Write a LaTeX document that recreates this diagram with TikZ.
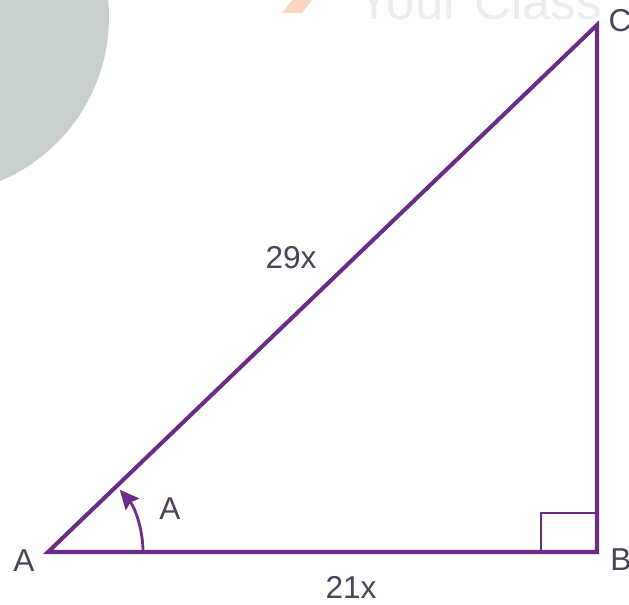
\documentclass[tikz,border=0pt]{standalone}
\usepackage{fontspec}
\setmainfont{Liberation Sans}
\usetikzlibrary{arrows.meta}

\definecolor{triline}{RGB}{106,44,134}
\definecolor{labelgrey}{RGB}{78,66,88}
\definecolor{markgrey}{RGB}{200,208,205}
\definecolor{markorange}{RGB}{253,212,192}

\begin{document}
\begin{tikzpicture}[
    side/.style={draw=triline, line width=2.3pt, line join=miter},
    thinside/.style={draw=triline, line width=1.6pt},
    lbl/.style={text=labelgrey, font=\fontsize{18}{20}\selectfont, inner sep=0pt}]
    \useasboundingbox (0,0) rectangle (12.58,12.08);

    % watermark
    \begin{scope}
        \clip (0,0) rectangle (12.58,12.08);
        \fill[markgrey] (-1.38,11.74) circle (3.56);
        \fill[markorange] (5.64,11.82) -- (6.04,11.82) -- (6.24,12.08) -- (5.84,12.08) -- cycle;
        \node[anchor=base west, text=gray!14, font=\fontsize{29}{30}\selectfont, inner sep=0pt] (mark) at (7.14,11.70) {Your Class};
    \end{scope}

    \coordinate (A) at (0.96,1.04);
    \coordinate (B) at (11.94,1.04);
    \coordinate (C) at (11.94,11.58);

    \draw[side] (A) -- (B) -- (C) -- cycle;
    \draw[thinside] (B) ++(-1.12,0) |- ++(1.12,0.78);
    \draw[thinside, -{Stealth[length=11pt, width=10pt, inset=1.5pt]}] (A) ++(1.9,0) arc[start angle=0, end angle=41, radius=1.9];

    \node[lbl] (labA) at (0.48,0.86) {A};
    \node[lbl] (labB) at (12.42,0.88) {B};
    \node[lbl] (labC) at (12.40,11.66) {C};
    \node[lbl] (ang) at (3.40,1.90) {A};
    \node[lbl] (hyp) at (5.82,6.92) {29x};
    \node[lbl] (base) at (7.02,0.33) {21x};
\end{tikzpicture}
\end{document}
